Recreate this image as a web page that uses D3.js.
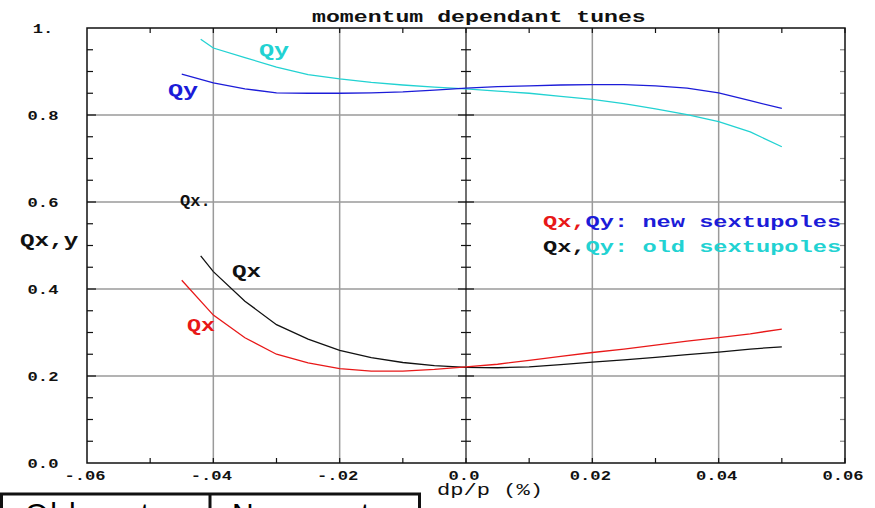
<!DOCTYPE html>
<html>
<head>
<meta charset="utf-8">
<script src="https://cdn.jsdelivr.net/npm/d3@7"></script>
<style>
  body { margin: 0; background: #fff; }
  svg { display: block; }
  .mono { font-family: "Liberation Mono", "DejaVu Sans Mono", monospace; }
</style>
</head>
<body>
<svg width="875" height="508"></svg>
<script>
// momentum dependant tunes

var dpNew = [-0.045, -0.04, -0.035, -0.03, -0.025, -0.02, -0.015, -0.01, -0.005, 0,
             0.005, 0.01, 0.015, 0.02, 0.025, 0.03, 0.035, 0.04, 0.045, 0.05];
var qxNew = [0.420, 0.340, 0.288, 0.250, 0.230, 0.217, 0.211, 0.211, 0.215, 0.221,
             0.227, 0.236, 0.245, 0.254, 0.262, 0.271, 0.280, 0.288, 0.297, 0.308];
var qyNew = [0.894, 0.874, 0.860, 0.851, 0.850, 0.850, 0.851, 0.853, 0.857, 0.862,
             0.865, 0.867, 0.869, 0.870, 0.870, 0.867, 0.862, 0.851, 0.833, 0.815];

var dpOld = [-0.042, -0.04, -0.035, -0.03, -0.025, -0.02, -0.015, -0.01, -0.005, 0,
             0.005, 0.01, 0.015, 0.02, 0.025, 0.03, 0.035, 0.04, 0.045, 0.05];
var qxOld = [0.476, 0.440, 0.372, 0.318, 0.285, 0.259, 0.242, 0.231, 0.224, 0.220,
             0.219, 0.221, 0.226, 0.232, 0.237, 0.243, 0.249, 0.255, 0.262, 0.267];
var qyOld = [0.974, 0.954, 0.932, 0.910, 0.893, 0.883, 0.875, 0.869, 0.864, 0.860,
             0.855, 0.850, 0.843, 0.836, 0.826, 0.814, 0.801, 0.785, 0.761, 0.727];

var xTickVals = [-0.06, -0.04, -0.02, 0, 0.02, 0.04, 0.06];
var xTickText = ["-.06", "-.04", "-.02", "0.0", "0.02", "0.04", "0.06"];
var yTickVals = [0, 0.2, 0.4, 0.6, 0.8, 1.0];
var yTickText = ["0.0", "0.2", "0.4", "0.6", "0.8", "1."];

var RED = "#e81818", BLUE = "#1c1cd8", CYAN = "#22d2d2", BLACK = "#111";

var svg = d3.select("svg");
// plot frame (names avoid window.top etc.)
var pL = 87, pR = 845, pT = 28, pB = 463;

var x = d3.scaleLinear().domain([-0.06, 0.06]).range([pL, pR]);
var y = d3.scaleLinear().domain([0, 1]).range([pB, pT]);

// grid lines
var grid = svg.append("g").attr("stroke", "#9a9a9a").attr("stroke-width", 1.5);
grid.selectAll(".gx")
    .data([-0.04, -0.02, 0.02, 0.04])
    .enter().append("line")
    .attr("x1", function(d) { return x(d); })
    .attr("x2", function(d) { return x(d); })
    .attr("y1", pT).attr("y2", pB);
grid.selectAll(".gy")
    .data([0.2, 0.4, 0.6, 0.8])
    .enter().append("line")
    .attr("x1", pL).attr("x2", pR)
    .attr("y1", function(d) { return y(d); })
    .attr("y2", function(d) { return y(d); });

// inner ticks on the frame
var ax = svg.append("g").attr("stroke", BLACK).attr("stroke-width", 1.2);
var xMinor = d3.range(-0.05, 0.0601, 0.01);
ax.selectAll(".tt").data(xMinor).enter().append("line")
    .attr("x1", function(d) { return x(d); }).attr("x2", function(d) { return x(d); })
    .attr("y1", pT).attr("y2", pT + 5);
ax.selectAll(".tb").data(xMinor).enter().append("line")
    .attr("x1", function(d) { return x(d); }).attr("x2", function(d) { return x(d); })
    .attr("y1", pB).attr("y2", pB - 5);
var yMinor = d3.range(0.05, 1.0, 0.05);
ax.selectAll(".tl").data(yMinor).enter().append("line")
    .attr("x1", pL).attr("x2", function(d, i) { return pL + ((i + 1) % 4 == 0 ? 9 : 6); })
    .attr("y1", function(d) { return y(d); }).attr("y2", function(d) { return y(d); });
ax.selectAll(".tr").data(yMinor).enter().append("line")
    .attr("stroke", "#888")
    .attr("x1", pR).attr("x2", pR - 5)
    .attr("y1", function(d) { return y(d); }).attr("y2", function(d) { return y(d); });

// vertical axis through zero
ax.append("line")
    .attr("x1", x(0)).attr("x2", x(0)).attr("y1", pT).attr("y2", pB);
ax.selectAll(".t0").data(yMinor).enter().append("line")
    .attr("x1", function(d, i) { return x(0) - ((i + 1) % 4 == 0 ? 8 : 5); })
    .attr("x2", function(d, i) { return x(0) + ((i + 1) % 4 == 0 ? 8 : 5); })
    .attr("y1", function(d) { return y(d); }).attr("y2", function(d) { return y(d); });

// frame
svg.append("rect")
    .attr("x", pL).attr("y", pT)
    .attr("width", pR - pL).attr("height", pB - pT)
    .attr("fill", "none").attr("stroke", BLACK).attr("stroke-width", 1.5);

// the original uses a wide bitmap font, so mono glyphs get stretched in x
function label(str, px, py, col, size, sx, weight, anchor) {
  return svg.append("text")
    .attr("class", "mono")
    .attr("transform", "translate(" + px + "," + py + ") scale(" + sx + ",1)")
    .attr("fill", col)
    .attr("font-size", size)
    .attr("font-weight", weight || "bold")
    .attr("text-anchor", anchor || "start")
    .text(str);
}

// tick labels
xTickVals.forEach(function(d, i) {
  label(xTickText[i], x(d) - 2, 480, BLACK, 13, 1.32, "bold", "middle");
});
yTickVals.forEach(function(d, i) {
  label(yTickText[i], 43, y(d) + 4.5, BLACK, 13, 1.32, "bold", "middle");
});

// curves
var line = d3.line()
    .x(function(d) { return x(d[0]); })
    .y(function(d) { return y(d[1]); });

var series = [
  {dp: dpOld, v: qyOld, c: CYAN},
  {dp: dpNew, v: qyNew, c: BLUE},
  {dp: dpOld, v: qxOld, c: BLACK},
  {dp: dpNew, v: qxNew, c: RED}
];
svg.selectAll(".curve").data(series).enter().append("path")
    .attr("fill", "none")
    .attr("stroke", function(s) { return s.c; })
    .attr("stroke-width", 1.3)
    .attr("d", function(s) { return line(d3.zip(s.dp, s.v)); });

// texts
label("momentum dependant tunes", 312, 22, BLACK, 16, 1.45);
label("Qx,y", 20, 246, BLACK, 18, 1.35);
label("Qy", 259, 56, CYAN, 18, 1.4);
label("Qy", 168, 96, BLUE, 18, 1.4);
label("Qx.", 180, 206, BLACK, 17, 1.0);
label("Qx", 232, 277, BLACK, 18, 1.35);
label("Qx", 187, 331, RED, 18, 1.3);
label("dp/p (%)", 437, 495, BLACK, 17, 1.3, "normal");

// legend
var cw = 14.2;
var leg = [
  {t: "Qx,", c: RED, row: 0, col: 0},
  {t: "Qy", c: BLUE, row: 0, col: 3},
  {t: ": new sextupoles", c: BLUE, row: 0, col: 5},
  {t: "Qx,", c: BLACK, row: 1, col: 0},
  {t: "Qy", c: CYAN, row: 1, col: 3},
  {t: ": old sextupoles", c: CYAN, row: 1, col: 5}
];
leg.forEach(function(l) {
  label(l.t, 543 + l.col * cw, 227 + l.row * 25, l.c, 17, cw / 10.2);
});

// table box cut off at the bottom
svg.append("rect")
    .attr("x", 1.5).attr("y", 494)
    .attr("width", 418).attr("height", 30)
    .attr("fill", "none").attr("stroke", BLACK).attr("stroke-width", 3);
svg.append("line")
    .attr("x1", 210).attr("x2", 210).attr("y1", 494).attr("y2", 508)
    .attr("stroke", BLACK).attr("stroke-width", 3);
svg.append("text")
    .attr("x", 25).attr("y", 524)
    .attr("font-family", "Liberation Sans, Arial, sans-serif")
    .attr("font-size", 30)
    .attr("letter-spacing", 2)
    .text("Old sext");
svg.append("text")
    .attr("x", 232).attr("y", 524)
    .attr("font-family", "Liberation Sans, Arial, sans-serif")
    .attr("font-size", 30)
    .attr("letter-spacing", 2)
    .text("New sext");
</script>
</body>
</html>
